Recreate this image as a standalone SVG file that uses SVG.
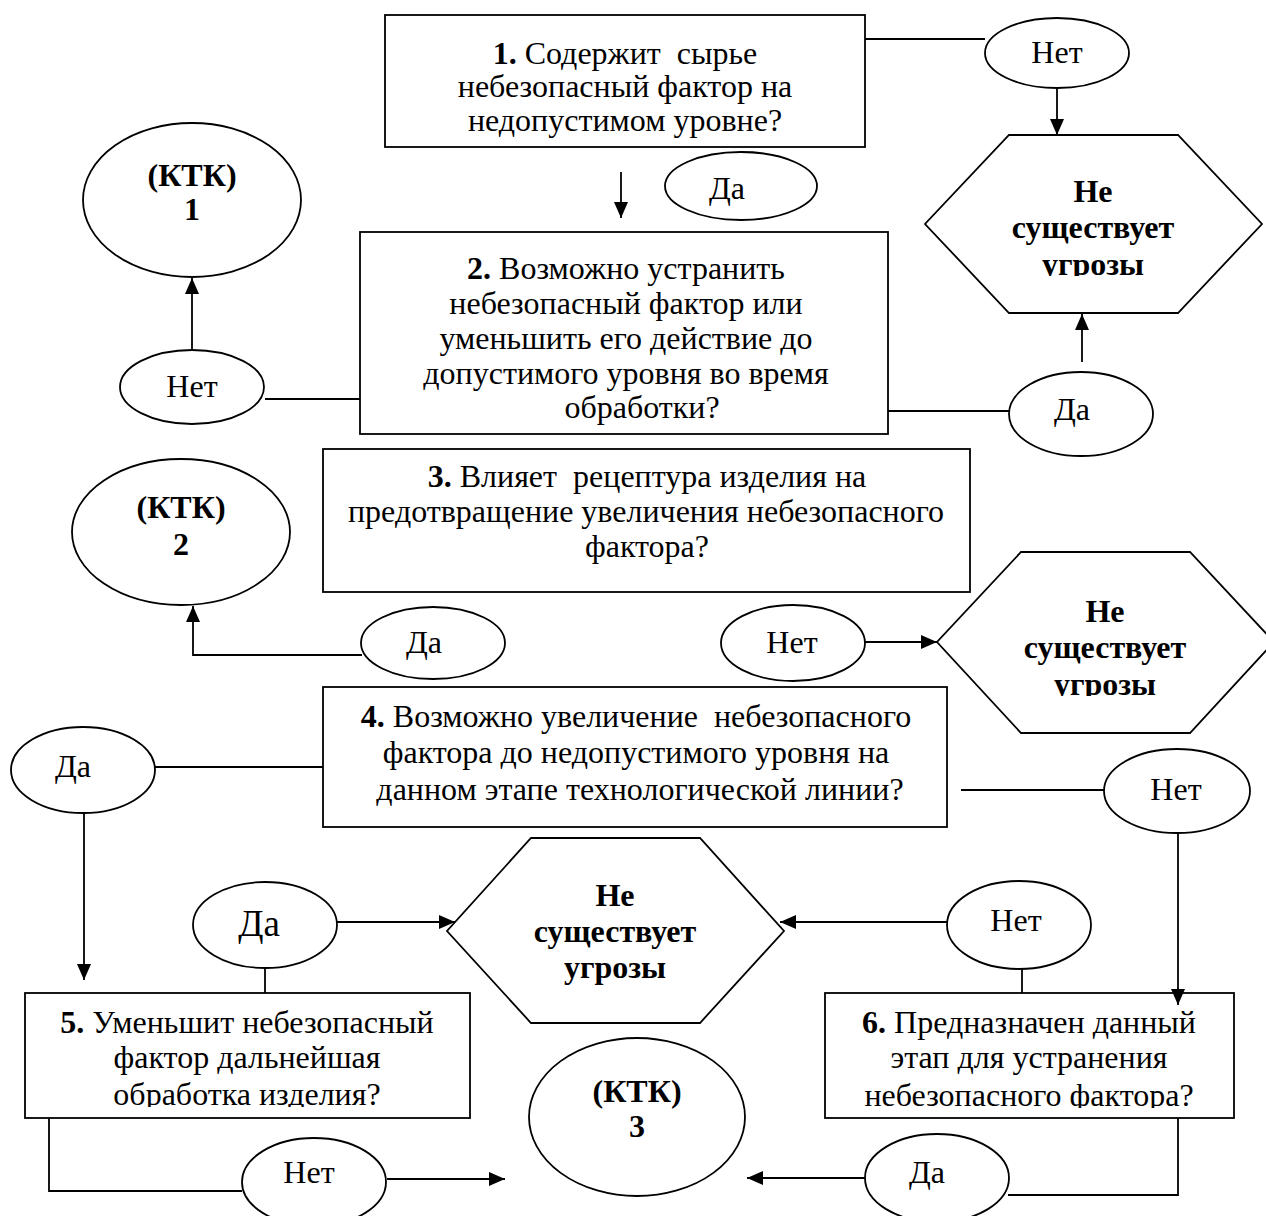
<svg xmlns="http://www.w3.org/2000/svg" width="1266" height="1216" viewBox="0 0 1266 1216">
<style>
.shape{fill:#fff;stroke:#000;stroke-width:1.8}
.ln{fill:none;stroke:#000;stroke-width:1.8}
text{font-family:"Liberation Serif","Times New Roman",serif;font-size:32px;fill:#000;text-anchor:middle}
.b{font-weight:bold}
.big{font-size:37px}
</style>
<defs>
<marker id="ah" markerUnits="userSpaceOnUse" markerWidth="18" markerHeight="16" refX="16" refY="7" orient="auto">
<path d="M0,0 L16,7 L0,14 z" fill="#000"/>
</marker>
<clipPath id="cH1"><rect x="900" y="100" width="366" height="176"/></clipPath>
<clipPath id="cH2"><rect x="900" y="540" width="366" height="156"/></clipPath>
<clipPath id="cB5"><rect x="0" y="990" width="480" height="117"/></clipPath>
<clipPath id="cB6"><rect x="820" y="990" width="420" height="118"/></clipPath>
</defs>

<g id="box1">
<rect class="shape" x="385" y="15" width="480" height="132"/>
<text x="625" y="64" xml:space="preserve"><tspan class="b">1.</tspan> Содержит  сырье</text>
<text x="625" y="97">небезопасный фактор на</text>
<text x="625" y="131">недопустимом уровне?</text>
</g>

<g id="no1">
<ellipse class="shape" cx="1057" cy="53" rx="72" ry="35"/>
<text x="1057" y="63">Нет</text>
</g>

<g id="hex1">
<polygon class="shape" points="1009,135 1178,135 1262,224 1178,313 1009,313 925,224"/>
<text class="b" x="1093" y="202">Не</text>
<text class="b" x="1093" y="238">существует</text>
<text class="b" x="1093" y="275" clip-path="url(#cH1)">угрозы</text>
</g>

<g id="yes1">
<ellipse class="shape" cx="741" cy="186" rx="76" ry="34"/>
<text x="727" y="199">Да</text>
</g>

<g id="ktk1">
<ellipse class="shape" cx="192" cy="200" rx="109" ry="77"/>
<text class="b" x="192" y="186">(КТК)</text>
<text class="b" x="192" y="220">1</text>
</g>

<g id="no2">
<ellipse class="shape" cx="192" cy="387" rx="72" ry="37"/>
<text x="192" y="397">Нет</text>
</g>

<g id="box2">
<rect class="shape" x="360" y="232" width="528" height="202"/>
<text x="626" y="279"><tspan class="b">2.</tspan> Возможно устранить</text>
<text x="626" y="314">небезопасный фактор или</text>
<text x="626" y="349">уменьшить его действие до</text>
<text x="626" y="384">допустимого уровня во время</text>
<text x="642" y="418">обработки?</text>
</g>

<g id="yes2">
<ellipse class="shape" cx="1081" cy="414" rx="72" ry="42"/>
<text x="1072" y="420">Да</text>
</g>

<g id="box3">
<rect class="shape" x="323" y="449" width="647" height="143"/>
<text x="647" y="487" xml:space="preserve"><tspan class="b">3.</tspan> Влияет  рецептура изделия на</text>
<text x="646" y="522">предотвращение увеличения небезопасного</text>
<text x="647" y="557">фактора?</text>
</g>

<g id="ktk2">
<ellipse class="shape" cx="181" cy="532" rx="109" ry="73"/>
<text class="b" x="181" y="518">(КТК)</text>
<text class="b" x="181" y="555">2</text>
</g>

<g id="yes3">
<ellipse class="shape" cx="433" cy="643" rx="72" ry="36"/>
<text x="424" y="653">Да</text>
</g>

<g id="no3">
<ellipse class="shape" cx="793" cy="643" rx="72" ry="38"/>
<text x="792" y="653">Нет</text>
</g>

<g id="hex2">
<polygon class="shape" points="1021,552 1190,552 1274,642 1190,733 1021,733 937,642"/>
<text class="b" x="1105" y="622">Не</text>
<text class="b" x="1105" y="658">существует</text>
<text class="b" x="1105" y="695" clip-path="url(#cH2)">угрозы</text>
</g>

<g id="box4">
<rect class="shape" x="323" y="687" width="624" height="140"/>
<text x="636" y="727" xml:space="preserve"><tspan class="b">4.</tspan> Возможно увеличение  небезопасного</text>
<text x="636" y="763">фактора до недопустимого уровня на</text>
<text x="640" y="800">данном этапе технологической линии?</text>
</g>

<g id="yes4">
<ellipse class="shape" cx="83" cy="770" rx="72" ry="43"/>
<text x="73" y="777">Да</text>
</g>

<g id="no4">
<ellipse class="shape" cx="1177" cy="791" rx="73" ry="42"/>
<text x="1176" y="800">Нет</text>
</g>

<g id="yes5">
<ellipse class="shape" cx="265" cy="925" rx="72" ry="43"/>
<text class="big" x="259" y="936">Да</text>
</g>

<g id="hex3">
<polygon class="shape" points="531,838 700,838 784,931 700,1023 531,1023 447,931"/>
<text class="b" x="615" y="906">Не</text>
<text class="b" x="615" y="942">существует</text>
<text class="b" x="615" y="978">угрозы</text>
</g>

<g id="no5">
<ellipse class="shape" cx="1019" cy="925" rx="72" ry="44"/>
<text x="1016" y="931">Нет</text>
</g>

<g id="box5">
<rect class="shape" x="25" y="993" width="445" height="125"/>
<text x="247" y="1033"><tspan class="b">5.</tspan> Уменьшит небезопасный</text>
<text x="247" y="1068">фактор дальнейшая</text>
<text x="247" y="1105" clip-path="url(#cB5)">обработка изделия?</text>
</g>

<g id="box6">
<rect class="shape" x="825" y="993" width="409" height="125"/>
<text x="1029" y="1033"><tspan class="b">6.</tspan> Предназначен данный</text>
<text x="1029" y="1068">этап для устранения</text>
<text x="1029" y="1106" clip-path="url(#cB6)">небезопасного фактора?</text>
</g>

<g id="ktk3">
<ellipse class="shape" cx="637" cy="1117" rx="108" ry="79"/>
<text class="b" x="637" y="1102">(КТК)</text>
<text class="b" x="637" y="1137">3</text>
</g>

<g id="no6">
<ellipse class="shape" cx="314" cy="1182" rx="72" ry="44"/>
<text x="309" y="1183">Нет</text>
</g>

<g id="yes6">
<ellipse class="shape" cx="937" cy="1178" rx="72" ry="44"/>
<text x="927" y="1183">Да</text>
</g>

<g id="connectors">
<line class="ln" x1="865" y1="39" x2="985" y2="39"/>
<line class="ln" x1="1057" y1="88" x2="1057" y2="135" marker-end="url(#ah)"/>
<line class="ln" x1="621" y1="172" x2="621" y2="218" marker-end="url(#ah)"/>
<line class="ln" x1="192" y1="350" x2="192" y2="278" marker-end="url(#ah)"/>
<line class="ln" x1="265" y1="399" x2="360" y2="399"/>
<line class="ln" x1="888" y1="411" x2="1009" y2="411"/>
<line class="ln" x1="1082" y1="362" x2="1082" y2="314" marker-end="url(#ah)"/>
<polyline class="ln" points="362,655 193,655 193,606" marker-end="url(#ah)"/>
<line class="ln" x1="865" y1="642" x2="937" y2="642" marker-end="url(#ah)"/>
<line class="ln" x1="155" y1="767" x2="323" y2="767"/>
<line class="ln" x1="84" y1="813" x2="84" y2="980" marker-end="url(#ah)"/>
<line class="ln" x1="961" y1="790" x2="1104" y2="790"/>
<line class="ln" x1="1178" y1="833" x2="1178" y2="1005" marker-end="url(#ah)"/>
<line class="ln" x1="337" y1="922" x2="455" y2="922" marker-end="url(#ah)"/>
<line class="ln" x1="265" y1="968" x2="265" y2="993"/>
<line class="ln" x1="947" y1="922" x2="780" y2="922" marker-end="url(#ah)"/>
<line class="ln" x1="1022" y1="969" x2="1022" y2="993"/>
<polyline class="ln" points="49,1118 49,1191 242,1191"/>
<line class="ln" x1="387" y1="1179" x2="505" y2="1179" marker-end="url(#ah)"/>
<line class="ln" x1="865" y1="1178" x2="747" y2="1178" marker-end="url(#ah)"/>
<polyline class="ln" points="1178,1118 1178,1195 1008,1195"/>
</g>
</svg>
